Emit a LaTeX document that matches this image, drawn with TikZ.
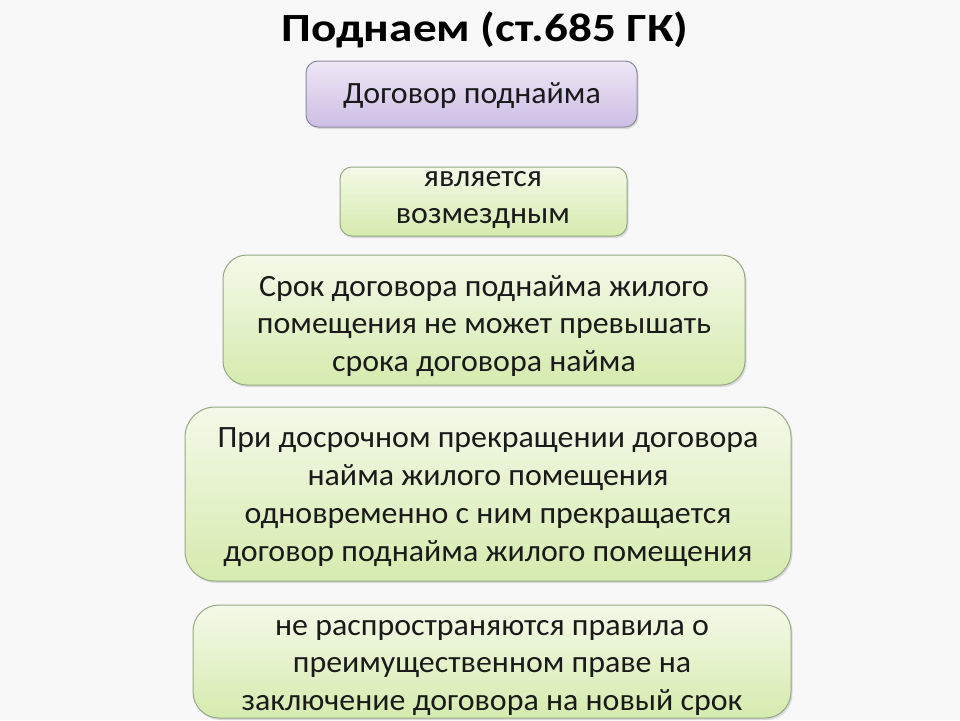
\documentclass[tikz,border=0pt]{standalone}
\usepackage{fontspec}
\setmainfont{Carlito}
\newfontfamily\bodyfont{Carlito}[FakeStretch=1.03]
\newfontfamily\titlefont{Carlito Bold}[FakeStretch=1.18]
\usetikzlibrary{shadows}
\definecolor{bgc}{HTML}{F8F8F8}
\definecolor{ptop}{HTML}{EEE7F5}
\definecolor{pbot}{HTML}{CDBDE5}
\definecolor{pline}{HTML}{8E8A9E}
\definecolor{gtop}{HTML}{F4F9E8}
\definecolor{gbot}{HTML}{D5EBAE}
\definecolor{gline}{HTML}{98A888}
\definecolor{txt}{HTML}{1A1A1A}
\tikzset{
  boxbase/.style={draw, line width=1pt, inner sep=0pt, outer sep=0pt,
    drop shadow={opacity=0.25, shadow xshift=1.5pt, shadow yshift=-2pt}},
  purplebox/.style={boxbase, draw=pline, top color=ptop, bottom color=pbot},
  greenbox/.style={boxbase, draw=gline, top color=gtop, bottom color=gbot},
  boxtext/.style={align=center, inner sep=0pt, text=txt, font=\bodyfont\fontsize{31}{37.8}\selectfont},
  titletext/.style={inner sep=0pt, text=black, font=\titlefont\fontsize{40}{48}\selectfont}
}
\begin{document}
\begin{tikzpicture}[x=1pt,y=-1pt]
\fill[bgc] (0,0) rectangle (960,720);
\useasboundingbox (0,0) rectangle (960,720);
\node[titletext] (title) at (485,30) {Поднаем (ст.685 ГК)};
% box 1
\node[purplebox, rounded corners=12pt, minimum width=331pt, minimum height=66pt] (b1) at (471.5,94) {};
\node[boxtext] (t1) at (472,96) {Договор поднайма};
% box 2
\node[greenbox, rounded corners=12pt, minimum width=287pt, minimum height=69pt] (b2) at (483.5,201.5) {};
\node[boxtext] (t2) at (483,200) {является\\возмездным};
% box 3
\node[greenbox, rounded corners=24pt, minimum width=522pt, minimum height=130pt] (b3) at (484,320) {};
\node[boxtext] (t3) at (484,326) {Срок договора поднайма жилого\\помещения не может превышать\\срока договора найма};
% box 4
\node[greenbox, rounded corners=30pt, minimum width=606pt, minimum height=174pt] (b4) at (488,494) {};
\node[boxtext] (t4) at (488,497) {При досрочном прекращении договора\\найма жилого помещения\\одновременно с ним прекращается\\договор поднайма жилого помещения};
% box 5
\node[greenbox, rounded corners=26pt, minimum width=598pt, minimum height=113pt] (b5) at (492,661.5) {};
\node[boxtext] (t5) at (492,668) {не распространяются правила о\\преимущественном праве на\\заключение договора на новый срок};
\end{tikzpicture}
\end{document}
